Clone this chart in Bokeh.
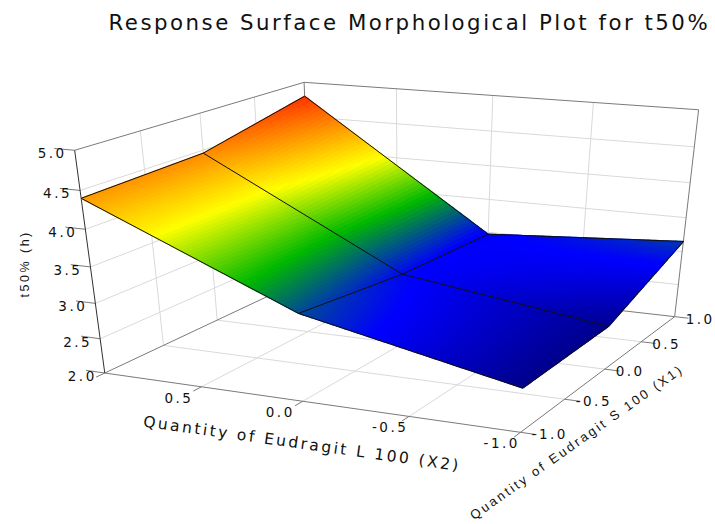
import numpy as np
from bokeh.plotting import figure
from bokeh.models import Range1d
from bokeh.core.properties import value
from bokeh.embed import file_html
from bokeh.resources import INLINE

title_text = "Response Surface Morphological Plot for t50%"
x1_label = "Quantity of Eudragit S 100 (X1)"
x2_label = "Quantity of Eudragit L 100 (X2)"
z_label = "t50% (h)"

x1_levels = [-1.0, 0.0, 1.0]
x2_levels = [1.0, 0.0, -1.0]
t50_x2_plus = [4.40, 4.46, 4.80]
t50_x2_zero = [3.21, 3.03, 2.97]
t50_x2_minus = [2.60, 2.62, 3.15]

x_ticks = [-1.0, -0.5, 0.0, 0.5, 1.0]
z_ticks = [2.0, 2.5, 3.0, 3.5, 4.0, 4.5, 5.0]

stop_z = [2.5, 3.0, 3.5, 4.0, 5.0]
stop_r = [0, 0, 0, 255, 255]
stop_g = [0, 0, 185, 255, 0]
stop_b = [110, 255, 0, 0, 0]

CAM = np.array([[-166.42799957619582, 119.60571641339128, -11.07887253782183, 402.3611141653966],
                [-9.089605535556613, -21.08289457182454, -71.11633018798362, 466.6573792759788],
                [0.040962402313880375, 0.08354556852827955, -0.027167740187529432, 1.0]])

def pr(a, b, c):
    h = CAM @ np.array([a, b, c, 1.0])
    return h[0] / h[2], h[1] / h[2]

def segs(pairs):
    xs, ys = [], []
    for s, e in pairs:
        p0, p1 = pr(*s), pr(*e)
        xs.append([p0[0], p1[0]])
        ys.append([p0[1], p1[1]])
    return xs, ys

def colour(z):
    r = int(np.interp(z, stop_z, stop_r))
    g = int(np.interp(z, stop_z, stop_g))
    b = int(np.interp(z, stop_z, stop_b))
    return f"#{r:02x}{g:02x}{b:02x}"

p = figure(width=715, height=524, x_range=Range1d(0, 715), y_range=Range1d(524, 0),
           output_backend="svg", toolbar_location=None, min_border=0,
           outline_line_color=None, background_fill_color="white",
           x_axis_location=None, y_axis_location=None)
p.grid.visible = False
p.styles = {"letter-spacing": "2.5px"}

inner = [t for t in x_ticks if abs(t) < 1]
inner_z = z_ticks[1:-1]
grid = []
for t in inner:
    grid += [((1, t, 2), (1, t, 5)), ((t, 1, 2), (t, 1, 5)),
             ((t, -1, 2), (t, 1, 2)), ((-1, t, 2), (1, t, 2))]
for z in inner_z:
    grid += [((1, -1, z), (1, 1, z)), ((1, 1, z), (-1, 1, z))]
gx, gy = segs(grid)
p.multi_line(gx, gy, line_color="#d9d9d9", line_width=1)

frame = [((1, -1, 5), (1, 1, 5)), ((1, 1, 5), (-1, 1, 5)), ((1, 1, 2), (1, 1, 5)),
         ((-1, 1, 2), (-1, 1, 5)), ((1, -1, 2), (-1, -1, 2)), ((-1, -1, 2), (-1, 1, 2)),
         ((1, -1, 2), (1, 1, 2)), ((1, 1, 2), (-1, 1, 2))]
for t in x_ticks:
    frame += [((-1, t, 2), (-1.07, t, 2)), ((t, -1, 2), (t, -1.07, 2))]
for z in z_ticks:
    frame += [((1, -1, z), (1.1, -1, z))]
fx, fy = segs(frame)
p.multi_line(fx, fy, line_color="#7a7a7a", line_width=1)
lx, ly = segs([((1, -1, 2), (1, -1, 5))])
p.multi_line(lx, ly, line_color="#303030", line_width=1)

rows = [t50_x2_plus, t50_x2_zero, t50_x2_minus]
N = 52
px, py, pc = [], [], []
for i in range(2):
    for j in range(2):
        a0, a1 = x2_levels[i], x2_levels[i + 1]
        b0, b1 = x1_levels[j], x1_levels[j + 1]
        z00, z01 = rows[i][j], rows[i][j + 1]
        z10, z11 = rows[i + 1][j], rows[i + 1][j + 1]
        def sz(u, v):
            return (z00 * (1 - u) + z10 * u) * (1 - v) + (z01 * (1 - u) + z11 * u) * v
        for m in range(N):
            for n in range(N):
                u0, u1, v0, v1 = m / N, (m + 1) / N, n / N, (n + 1) / N
                xs, ys = [], []
                for u, v in ((u0, v0), (u1, v0), (u1, v1), (u0, v1)):
                    q = pr(a0 + (a1 - a0) * u, b0 + (b1 - b0) * v, sz(u, v))
                    xs.append(q[0]); ys.append(q[1])
                px.append(xs); py.append(ys)
                pc.append(colour(sz((u0 + u1) / 2, (v0 + v1) / 2)))
p.patches(px, py, fill_color=pc, line_color=pc, line_width=1.3)

mesh = []
for i in range(3):
    for j in range(2):
        mesh.append(((x2_levels[i], x1_levels[j], rows[i][j]), (x2_levels[i], x1_levels[j + 1], rows[i][j + 1])))
for j in range(3):
    for i in range(2):
        mesh.append(((x2_levels[i], x1_levels[j], rows[i][j]), (x2_levels[i + 1], x1_levels[j], rows[i + 1][j])))
mx, my = segs(mesh)
p.multi_line(mx, my, line_color="#101010", line_width=1)

def label(xs, ys, texts, size, font="DejaVu Sans", angle=0.0, dx=0, dy=0):
    p.text(xs, ys, text=texts, text_font=value(font), text_font_size=size, text_color="#111111",
           text_align="left", text_baseline="middle", angle=angle, x_offset=dx, y_offset=dy)

fmt = lambda t: f"{t:.1f}"
zp = [pr(1, -1, z) for z in z_ticks]
label([q[0] for q in zp], [q[1] for q in zp], [fmt(z) for z in z_ticks], "13.5px", dx=-37, dy=3)
x2t = x_ticks[::-1]
tp = [pr(t, -1, 2) for t in x2t[1:]]
label([q[0] for q in tp], [q[1] for q in tp], [fmt(t) for t in x2t[1:]], "13.5px", dx=-37, dy=11)
tp = [pr(-1, t, 2) for t in x_ticks]
label([q[0] for q in tp], [q[1] for q in tp], [fmt(t) for t in x_ticks], "13.5px", dx=11, dy=2)

label([108], [22], [title_text], "21.3px")
label([143], [421], [x2_label], "15.5px", angle=np.radians(-8))
label([471], [516], [x1_label], "13px", font="Liberation Sans", angle=np.radians(35.3))
label([24], [297], [z_label], "12.5px", font="Liberation Sans", angle=np.pi / 2)

open("out.html", "w").write(file_html(p, INLINE))
